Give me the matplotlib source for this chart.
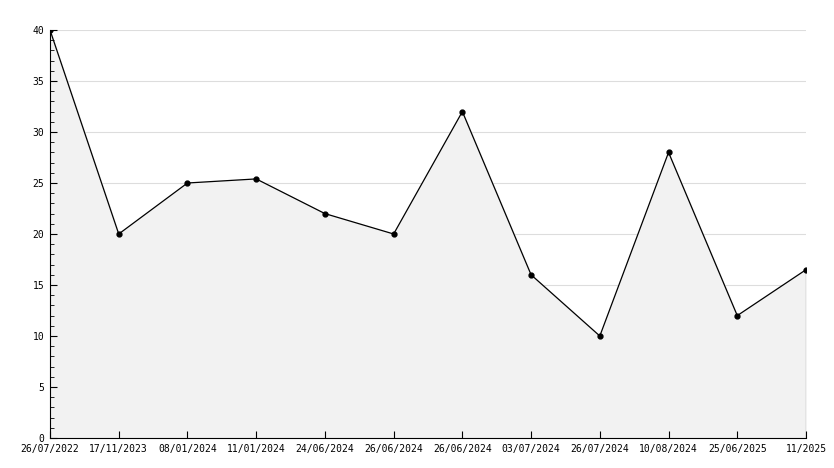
import matplotlib
matplotlib.use("Agg")
import matplotlib.pyplot as plt
from matplotlib.ticker import MultipleLocator

labels = ["26/07/2022","17/11/2023","08/01/2024","11/01/2024","24/06/2024","26/06/2024",
          "26/06/2024","03/07/2024","26/07/2024","10/08/2024","25/06/2025","11/2025"]
values = [40, 20, 25, 25.4, 22, 20, 32, 16, 10, 28, 12, 16.5]

plt.rcParams['font.family'] = ['DejaVu Sans Mono']
fig = plt.figure(figsize=(8.34, 4.68), dpi=100)
ax = fig.add_axes([50/834, 30/468, 756/834, 408/468])
x = list(range(len(values)))
for yv in range(5, 41, 5):
    ax.axhline(yv, color="#dddddd", lw=0.8, zorder=0)
ax.fill_between(x, values, 0, color="#f2f2f2", zorder=1)
ax.plot(x, values, color="black", lw=0.9, marker="o", ms=3.5, zorder=3)
ax.plot([x[-1], x[-1]], [0, values[-1]], color="black", lw=0.8, zorder=2)
ax.set_xlim(0, len(values)-1)
ax.set_ylim(0, 40)
ax.yaxis.set_major_locator(MultipleLocator(5))
ax.yaxis.set_minor_locator(MultipleLocator(1))
ax.set_xticks(x)
ax.set_xticklabels(labels)
for s in ["top", "right"]:
    ax.spines[s].set_visible(False)
ax.tick_params(axis="both", direction="in", labelsize=7, length=5, pad=4)
ax.tick_params(axis="y", which="minor", direction="in", length=3)
fig.savefig("out.png", dpi=100)
